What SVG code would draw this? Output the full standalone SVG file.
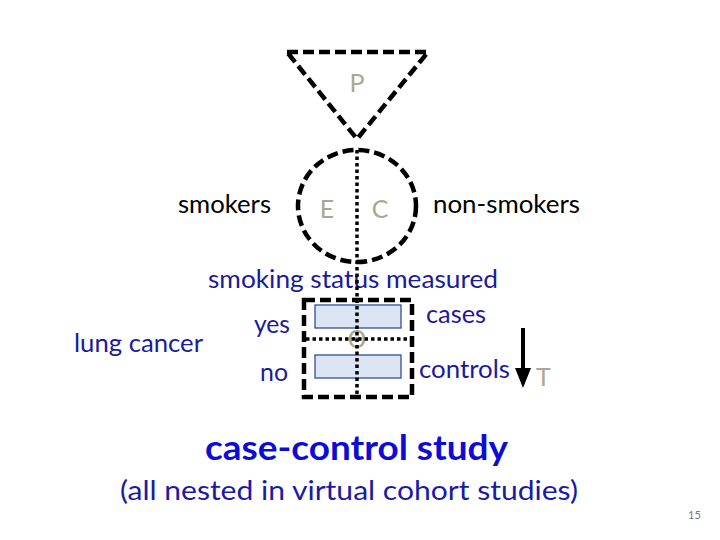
<svg xmlns="http://www.w3.org/2000/svg" width="720" height="540" viewBox="0 0 720 540">
<style>
.dash{fill:none;stroke:#000;stroke-width:4.5;stroke-dasharray:11 5}
.dot{fill:none;stroke:#000;stroke-width:3.5;stroke-dasharray:3.5 3}
.bar{fill:#dbe5f3;stroke:#30509a;stroke-width:1.3}
text{font-family:Lato,"Open Sans","Liberation Sans",sans-serif}
.k{fill:#000;font-size:25px}
.b{fill:#1a1aa0;font-size:25px}
.g{fill:#aca88e;font-size:25px}
</style>
<defs>
<marker id="ah" markerWidth="5" markerHeight="4" refX="0" refY="2" orient="auto" markerUnits="strokeWidth">
<path d="M0,0 L5,2 L0,4 Z" fill="#000"/>
</marker>
</defs>
<rect width="720" height="540" fill="#fff"/>
<g id="population">
<polygon class="dash" points="287,52 428,52 357,139"/>
<text class="g" x="357" y="92" text-anchor="middle">P</text>
</g>
<g id="cohort">
<ellipse class="dash" cx="357" cy="206" rx="59" ry="56"/>
<text class="g" x="327" y="218" text-anchor="middle">E</text>
<text class="g" x="380" y="218" text-anchor="middle">C</text>
</g>
<g id="labels">
<text class="k" x="178" y="213" textLength="93" lengthAdjust="spacingAndGlyphs">smokers</text>
<text class="k" x="433" y="213" textLength="147" lengthAdjust="spacingAndGlyphs">non-smokers</text>
<text class="b" x="208" y="288" textLength="290" lengthAdjust="spacingAndGlyphs">smoking status measured</text>
<text class="b" x="74" y="352" textLength="129" lengthAdjust="spacingAndGlyphs">lung cancer</text>
<text class="b" x="254" y="333" textLength="36" lengthAdjust="spacingAndGlyphs">yes</text>
<text class="b" x="260" y="381" textLength="28" lengthAdjust="spacingAndGlyphs">no</text>
<text class="b" x="426" y="323" textLength="60" lengthAdjust="spacingAndGlyphs">cases</text>
<text class="b" x="419" y="378" textLength="91" lengthAdjust="spacingAndGlyphs">controls</text>
<text class="g" x="536" y="386">T</text>
</g>
<g id="table">
<rect class="dash" x="304" y="300" width="108" height="97"/>
<rect class="bar" x="315" y="305" width="86" height="23"/>
<rect class="bar" x="315" y="355" width="86" height="23"/>
<text class="g" x="357" y="348" text-anchor="middle" style="font-family:'DejaVu Sans',sans-serif;font-size:24px">Θ</text>
</g>
<g id="connectors">
<line class="dot" x1="357" y1="150" x2="357" y2="397"/>
<line class="dot" x1="306" y1="339" x2="410" y2="339"/>
<line x1="523" y1="328" x2="523" y2="368" stroke="#000" stroke-width="4" marker-end="url(#ah)"/>
</g>
<g id="title">
<text x="205" y="460" fill="#0c0cd6" font-size="34" font-weight="bold" textLength="303" lengthAdjust="spacingAndGlyphs">case-control study</text>
<text x="120" y="500" fill="#1a1aa8" font-size="27" textLength="458" lengthAdjust="spacingAndGlyphs">(all nested in virtual cohort studies)</text>
<text x="688" y="519" fill="#777" font-size="11">15</text>
</g>
</svg>
